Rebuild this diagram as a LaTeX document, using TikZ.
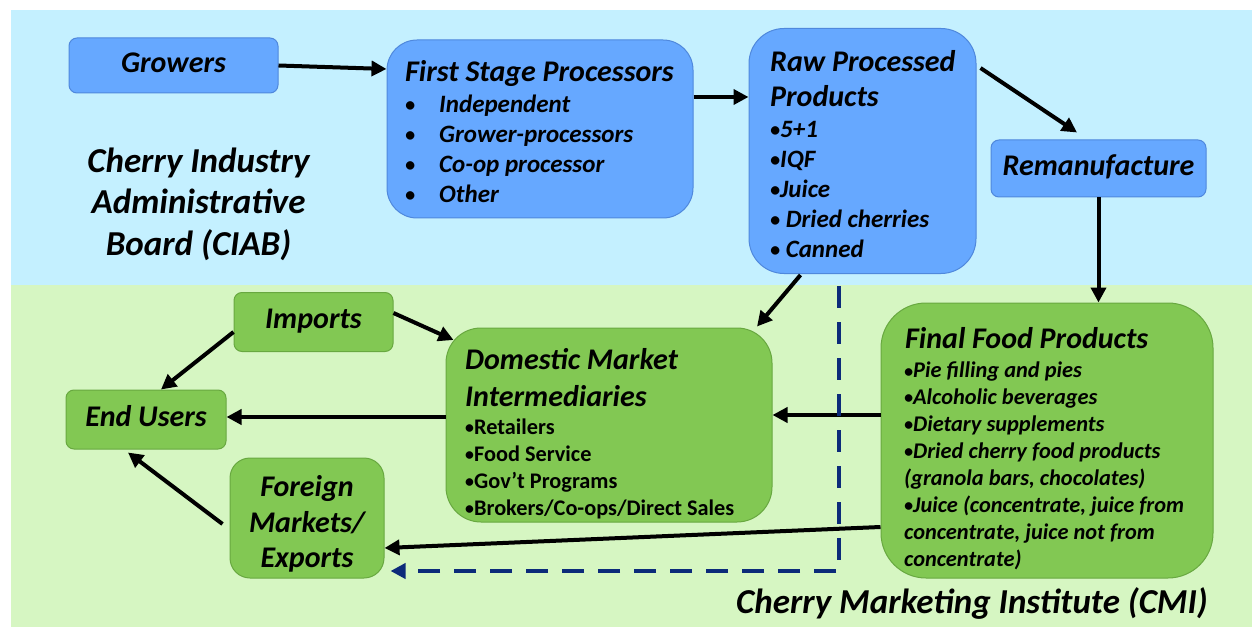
\documentclass[tikz,border=0pt]{standalone}
\usepackage{fontspec}
\usepackage{graphicx}
\setmainfont{Carlito}
\usetikzlibrary{arrows.meta}
\definecolor{skyband}{HTML}{C4F0FF}
\definecolor{leafband}{HTML}{D6F6C2}
\definecolor{bluefill}{HTML}{66A8FF}
\definecolor{blueedge}{HTML}{4F88DC}
\definecolor{greenfill}{HTML}{82C853}
\definecolor{greenedge}{HTML}{68A840}
\definecolor{navy}{HTML}{0C2B7A}
% small list bullet
\newcommand\smallbul{\raisebox{0.04em}{\scalebox{0.8}{•}}}
\begin{document}
\begin{tikzpicture}[x=1pt,y=-1pt,
  bluebox/.style={draw=blueedge,fill=bluefill,line width=1pt,inner sep=0pt},
  greenbox/.style={draw=greenedge,fill=greenfill,line width=1pt,inner sep=0pt},
  big/.style={font=\fontsize{30}{35}\selectfont\bfseries\itshape,inner sep=0pt},
  huge/.style={font=\fontsize{35}{41}\selectfont\bfseries\itshape,inner sep=0pt},
  itemi/.style={font=\fontsize{25}{30}\selectfont\bfseries\itshape,inner sep=0pt,anchor=base west},
  items/.style={font=\fontsize{22.4}{27}\selectfont\bfseries\itshape,inner sep=0pt,anchor=base west},
  itemu/.style={font=\fontsize{22.3}{27}\selectfont\bfseries,inner sep=0pt,anchor=base west},
  flow/.style={line width=4pt,-{Triangle[length=15pt,width=15pt]}},
  dashflow/.style={draw=navy,line width=4pt,dash pattern=on 22pt off 14pt,-{Triangle[length=15pt,width=15pt]}}]
\useasboundingbox (0,0) rectangle (1252,628);
% background bands
\fill[skyband] (11,10) rectangle (1252,285);
\fill[leafband] (11,285) rectangle (1252,627);

% upper band boxes
\node[bluebox,rounded corners=8pt,minimum width=209pt,minimum height=55pt] (grow) at (173.5,65.5) {};
\node[big,anchor=base] (grow-t) at (173.5,73) {Growers};

\node[bluebox,rounded corners=30pt,minimum width=306pt,minimum height=178pt] (fsp) at (540,129) {};
\node[big,anchor=base west] (fsp-t) at (405,82) {First Stage Processors};
\foreach \t [count=\i] in {Independent,Grower-processors,Co-op processor,Other}
  \node[itemi] (fsp-\i) at (405,83+30*\i) {\makebox[34pt][l]{\smallbul}\t};

\node[bluebox,rounded corners=35pt,minimum width=227pt,minimum height=245pt] (raw) at (862.5,151) {};
\node[big,anchor=base west] (raw-t1) at (770,72) {Raw Processed};
\node[big,anchor=base west] (raw-t2) at (770,107) {Products};
\foreach \t [count=\i] in {\smallbul 5+1,\smallbul IQF,\smallbul Juice,\smallbul{} Dried cherries,\smallbul{} Canned}
  \node[itemi] (raw-\i) at (770,108+30*\i) {\t};

\node[bluebox,rounded corners=8pt,minimum width=215pt,minimum height=57pt] (reman) at (1098.5,168.5) {};
\node[big,anchor=base] (reman-t) at (1098.5,176) {Remanufacture};

\node[huge,anchor=base] (ciab1) at (198.5,173) {Cherry Industry};
\node[huge,anchor=base] (ciab2) at (198.5,214) {Administrative};
\node[huge,anchor=base] (ciab3) at (198.5,255) {Board (CIAB)};

% lower band boxes
\node[greenbox,rounded corners=8pt,minimum width=159pt,minimum height=59pt] (imp) at (313.5,322) {};
\node[big,anchor=base] (imp-t) at (313.5,328) {Imports};

\node[greenbox,rounded corners=8pt,minimum width=160pt,minimum height=59pt] (eu) at (146,419.5) {};
\node[big,anchor=base] (eu-t) at (146,426) {End Users};

\node[greenbox,rounded corners=20pt,minimum width=154pt,minimum height=120pt] (for) at (307,518) {};
\node[big,anchor=base] (for-1) at (307,496) {Foreign};
\node[big,anchor=base] (for-2) at (307,532) {Markets/};
\node[big,anchor=base] (for-3) at (307,567) {Exports};

\node[greenbox,rounded corners=35pt,minimum width=326pt,minimum height=194pt] (dom) at (609,425) {};
\node[big,anchor=base west] (dom-t1) at (465,369) {Domestic Market};
\node[big,anchor=base west] (dom-t2) at (465,406) {Intermediaries};
\foreach \t [count=\i] in {Retailers,Food Service,Gov’t Programs,Brokers/Co-ops/Direct Sales}
  \node[itemu] (dom-\i) at (465,407+27*\i) {\smallbul\t};

\node[greenbox,rounded corners=45pt,minimum width=332pt,minimum height=275pt] (fin) at (1047,440.5) {};
\node[big,anchor=base west] (fin-t) at (905,348) {Final Food Products};
\foreach \t [count=\i] in {\smallbul Pie filling and pies,\smallbul Alcoholic beverages,\smallbul Dietary supplements,\smallbul Dried cherry food products,{(granola bars, chocolates)},{\smallbul Juice (concentrate, juice from},{concentrate, juice not from},concentrate)}
  \node[items] (fin-\i) at (904,351+26.9*\i) {\t};

\node[huge,anchor=base] (cmi) at (972,613) {Cherry Marketing Institute (CMI)};

% connectors
\draw[flow] (grow.east) -- ([yshift=60pt]fsp.west);
\draw[flow] ([yshift=32pt]fsp.east) coordinate (fspout) -- (fspout -| raw.west);
\draw[flow] ([xshift=4pt,yshift=-40pt]raw.north east) -- ([xshift=-21.5pt,yshift=7pt]reman.north);
\draw[flow] (reman.south) -- (reman.south |- fin.north);
\draw[flow] ([xshift=-62pt,yshift=-1pt]raw.south) -- ([xshift=148pt,yshift=1pt]dom.north);
\draw[flow] ([yshift=9pt]imp.east) -- ([xshift=8pt,yshift=85pt]dom.west);
\draw[flow] ([yshift=-10pt]imp.west) -- ([xshift=15pt]eu.north);
\draw[flow] ([yshift=8pt]dom.west) -- ([yshift=2.5pt]eu.east);
\draw[flow] ([yshift=25.5pt]fin.west) -- ([yshift=10pt]dom.east);
\draw[flow] ([yshift=-86.5pt]fin.west) -- ([yshift=-30pt]for.east);
\draw[flow] ([xshift=-7pt,yshift=-6pt]for.west) -- ([xshift=-18pt,yshift=-3pt]eu.south);
\coordinate (dtop) at (839,286);
\coordinate (dturn) at (839,571);
\draw[dashflow] (dtop) -- (dturn) -- ([xshift=6pt]dturn -| for.east);
\end{tikzpicture}
\end{document}
